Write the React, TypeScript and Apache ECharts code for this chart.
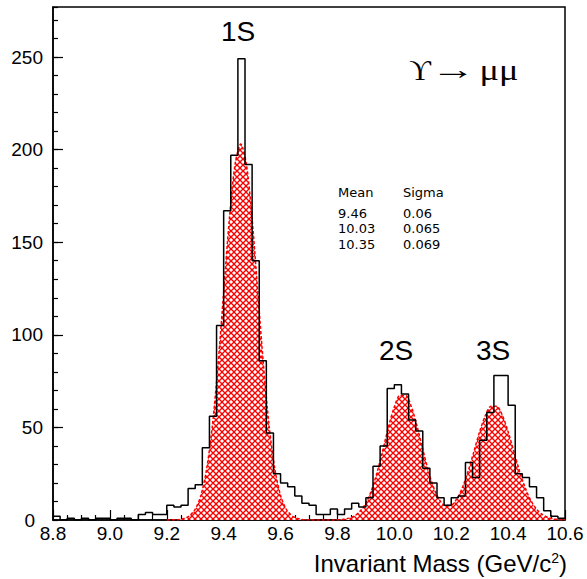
import React, { useEffect, useRef } from 'react';
import * as echarts from 'echarts';

// Histogram: 72 bins of width 0.025 starting at 8.8
const binStart = 8.8;
const binWidth = 0.025;
const counts = [
  2, 0, 1, 0, 1, 0, 1, 1, 0, 1,
  1, 0, 3, 4, 3, 3, 8, 7, 8, 17,
  19, 39, 56, 105, 167, 197, 249, 192, 140, 86,
  47, 25, 20, 18, 13, 9, 8, 3, 3, 6,
  3, 6, 9, 7, 12, 29, 40, 71, 73, 68,
  54, 48, 28, 20, 12, 8, 12, 13, 31, 23,
  43, 58, 78, 78, 62, 25, 23, 18, 12, 5,
  2, 1,
];

// Fitted curve sampled every 0.02 from 9.20 to 10.60
const fitStart = 9.2;
const fitStep = 0.02;
const fitValues = [
  0.0, 0.1, 0.2, 0.8, 2.3, 5.8, 13.3, 27.5, 50.6, 83.5,
  123.1, 162.6, 192.0, 203.0, 192.0, 162.6, 123.1, 83.5, 50.6, 27.5,
  13.3, 5.8, 2.3, 0.8, 0.2, 0.1, 0.0, 0.0, 0.0, 0.0,
  0.1, 0.4, 1.0, 2.2, 4.8, 9.2, 16.2, 26.1, 38.1, 50.6,
  61.1, 67.2, 67.2, 61.1, 50.6, 38.2, 26.3, 16.8, 10.6, 7.8,
  8.0, 11.5, 17.8, 26.6, 37.1, 47.7, 56.4, 61.4, 61.4, 56.4,
  47.7, 37.1, 26.5, 17.4, 10.5, 5.8, 3.0, 1.4, 0.6, 0.2,
  0.1,
];

const peakLabels = ['1S', '2S', '3S'];
const statsHeader = ['Mean', 'Sigma'];
const statsRows = [
  ['9.46', '0.06'],
  ['10.03', '0.065'],
  ['10.35', '0.069'],
];
const xTitle = ['Invariant Mass (GeV/c', '2', ')'];
const decayParts = ['ϒ', '→', 'μμ'];

function makeHatch(s: number): HTMLCanvasElement {
  const c = document.createElement('canvas');
  c.width = s;
  c.height = s;
  const g = c.getContext('2d')!;
  g.fillStyle = '#ffffff';
  g.fillRect(0, 0, s, s);
  g.strokeStyle = '#ff0000';
  g.lineWidth = 1.3;
  for (const o of [-s, 0, s]) {
    g.beginPath();
    g.moveTo(o - 1, -1);
    g.lineTo(o + s + 1, s + 1);
    g.stroke();
    g.beginPath();
    g.moveTo(o + s + 1, -1);
    g.lineTo(o - 1, s + 1);
    g.stroke();
  }
  return c;
}

const SANS = '"Liberation Sans", Arial, sans-serif';
const SERIF = '"Liberation Serif", "DejaVu Serif", serif';
const STAT = '"DejaVu Sans", sans-serif';

function txt(x: number, y: number, text: string, size: number, family: string, align = 'center', extra: any = {}) {
  return {
    type: 'text',
    x,
    y,
    ...extra,
    style: {
      text,
      fontSize: size,
      fontFamily: family,
      fill: '#000',
      align,
      textAlign: align,
      verticalAlign: 'middle',
      textVerticalAlign: 'middle',
    },
  };
}

export default function App() {
  const ref = useRef<HTMLDivElement>(null);
  useEffect(() => {
    const chart = echarts.init(ref.current!, undefined, { renderer: 'svg' });
    const histData: number[][] = counts.map((c, i) => [binStart + i * binWidth, c]);
    histData.push([binStart + counts.length * binWidth, counts[counts.length - 1]]);
    const fitData = fitValues.map((v, i) => [fitStart + i * fitStep, v]);
    const tile = 6;
    const hatch = makeHatch(tile);

    const axisLine = { show: true, lineStyle: { color: '#000', width: 1.5 } };
    const option: any = {
      animation: false,
      backgroundColor: '#fff',
      grid: {
        left: 53,
        top: 7,
        width: 512,
        height: 513,
        show: true,
        borderColor: '#000',
        borderWidth: 1.5,
      },
      xAxis: [
        {
          type: 'value',
          min: 8.8,
          max: 10.6,
          interval: 0.2,
          axisLine,
          axisTick: { show: true, inside: true, length: 10, lineStyle: { color: '#000', width: 1.2 } },
          minorTick: { show: true, splitNumber: 4, length: 5, lineStyle: { color: '#000', width: 1.2 } },
          axisLabel: {
            margin: 4,
            color: '#000',
            fontSize: 19,
            fontFamily: SANS,
            formatter: (v: number) => v.toFixed(1),
          },
          splitLine: { show: false },
          minorSplitLine: { show: false },
        },
      ],
      yAxis: [
        {
          type: 'value',
          min: 0,
          max: 277,
          interval: 50,
          axisLine,
          axisTick: { show: true, inside: true, length: 10, lineStyle: { color: '#000', width: 1.2 } },
          axisLabel: {
            margin: 10,
            color: '#000',
            fontSize: 19,
            fontFamily: SANS,
            showMaxLabel: false,
            showMinLabel: false,
          },
          splitLine: { show: false },
        },
        {
          type: 'value',
          min: 0,
          max: 277,
          interval: 10,
          position: 'left',
          axisLine: { show: false },
          axisTick: { show: true, inside: true, length: 5, lineStyle: { color: '#000', width: 1.2 } },
          axisLabel: { show: false },
          splitLine: { show: false },
        },
      ],
      series: [
        {
          type: 'line',
          data: fitData,
          showSymbol: false,
          smooth: 0.3,
          z: 2,
          lineStyle: { color: '#ff0000', width: 1.5, type: [3, 2] },
          areaStyle: {
            color: { image: hatch, repeat: 'repeat', imageWidth: tile, imageHeight: tile },
            opacity: 1,
          },
        },
        {
          type: 'line',
          data: histData,
          step: 'end',
          showSymbol: false,
          z: 3,
          lineStyle: { color: '#000', width: 1.5 },
        },
      ],
      graphic: [
        txt(35, 520, '0', 19, SANS, 'right'),
        txt(238, 31, peakLabels[0], 28, SANS),
        txt(396, 350, peakLabels[1], 28, SANS),
        txt(493, 350, peakLabels[2], 28, SANS),
        txt(420, 69, decayParts[0], 30, SERIF),
        txt(453, 70, decayParts[1], 28, SERIF, 'center', { scaleX: 1.6 }),
        txt(499, 70, decayParts[2], 29, SERIF, 'center', { scaleX: 1.25 }),
        txt(338, 192.5, statsHeader[0], 13, STAT, 'left'),
        txt(403, 192.5, statsHeader[1], 13, STAT, 'left'),
        ...statsRows.flatMap((r, i) => [
          txt(338, 213 + i * 15.7, r[0], 13, STAT, 'left'),
          txt(403, 213 + i * 15.7, r[1], 13, STAT, 'left'),
        ]),
        {
          type: 'text',
          x: 567,
          y: 563,
          style: {
            text: `{m|${xTitle[0]}}{s|${xTitle[1]}}{m|${xTitle[2]}}`,
            align: 'right',
            textAlign: 'right',
            verticalAlign: 'middle',
            textVerticalAlign: 'middle',
            rich: {
              m: { fontSize: 24, fontFamily: SANS, fill: '#000', color: '#000' },
              s: { fontSize: 14, fontFamily: SANS, fill: '#000', color: '#000', verticalAlign: 'top' },
            },
          },
        },
      ],
    };
    chart.setOption(option);
    return () => chart.dispose();
  }, []);
  return (
    <div
      ref={ref}
      style={{ position: 'fixed', left: 0, top: 0, width: 587, height: 579, background: '#fff' }}
    />
  );
}
